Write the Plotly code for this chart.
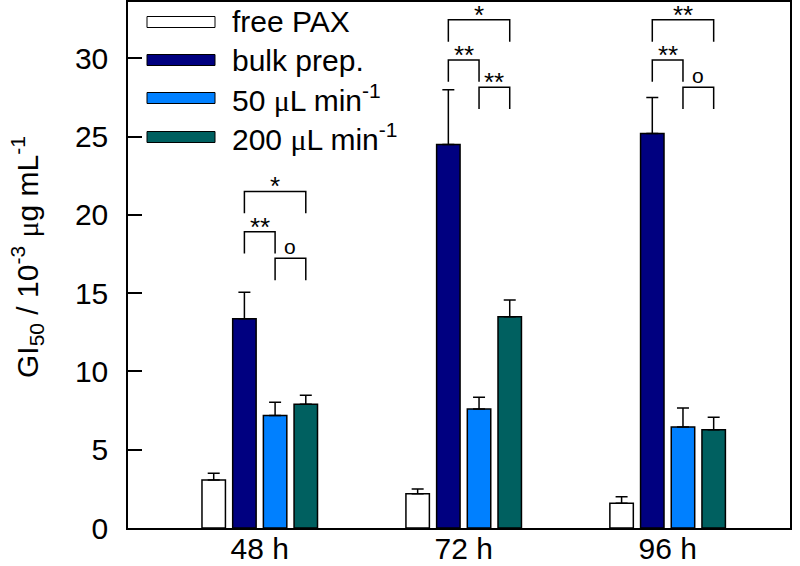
import plotly.graph_objects as go

# ---- data ----
categories = ["48 h", "72 h", "96 h"]
MU = "<span style=\"font-family:'Liberation Serif', serif\">μ</span>"
series_names = ["free PAX", "bulk prep.", f"50 {MU}L min<sup>-1</sup>", f"200 {MU}L min<sup>-1</sup>"]
free_pax = [3.07, 2.19, 1.58]
free_pax_err = [0.43, 0.30, 0.42]
bulk_prep = [13.36, 24.5, 25.2]
bulk_prep_err = [1.70, 3.50, 2.30]
flow_50 = [7.18, 7.60, 6.45]
flow_50_err = [0.85, 0.75, 1.22]
flow_200 = [7.90, 13.50, 6.28]
flow_200_err = [0.58, 1.07, 0.79]
y_ticks = [0, 5, 10, 15, 20, 25, 30]

# significance brackets: (category index, left series idx, right series idx, bracket y, label)
brackets = [
    (0, 1, 3, 21.5, "*"), (0, 1, 2, 18.93, "**"), (0, 2, 3, 17.23, "o"),
    (1, 1, 3, 32.46, "*"), (1, 1, 2, 29.9, "**"), (1, 2, 3, 28.16, "**"),
    (2, 1, 3, 32.46, "**"), (2, 1, 2, 29.9, "**"), (2, 2, 3, 28.16, "o"),
]

colors = ["#FFFFFF", "#000080", "#0080FF", "#006060"]
values = [free_pax, bulk_prep, flow_50, flow_200]
errors = [free_pax_err, bulk_prep_err, flow_50_err, flow_200_err]

FONT = "Arial, Liberation Sans, sans-serif"
FS = 30

fig = go.Figure()
for name, v, e, c in zip(series_names, values, errors, colors):
    fig.add_trace(go.Bar(
        x=categories, y=v, name=name, showlegend=False,
        marker=dict(color=c, line=dict(color="black", width=1.5)),
        error_y=dict(type="data", array=e, arrayminus=[0] * len(e), symmetric=False,
                     color="black", thickness=1.5, width=6),
    ))

bargap = 0.398
n_series = 4
slot = (1 - bargap) / n_series


def bar_center(ci, si):
    return ci - (1 - bargap) / 2 + slot * (si + 0.5)


shapes = []
annotations = []
leg_len = 1.4
for ci, a, b, yb, lab in brackets:
    x0, x1 = bar_center(ci, a), bar_center(ci, b)
    shapes.append(dict(type="path", xref="x", yref="y",
                       path=f"M {x0} {yb - leg_len} L {x0} {yb} L {x1} {yb} L {x1} {yb - leg_len}",
                       line=dict(color="black", width=1.5)))
    if lab == "o":
        annotations.append(dict(x=(x0 + x1) / 2, y=yb, xref="x", yref="y", text=lab, showarrow=False,
                                yanchor="bottom", yshift=-1, borderpad=0,
                                font=dict(family=FONT, size=21, color="black")))
    else:
        annotations.append(dict(x=(x0 + x1) / 2, y=yb, xref="x", yref="y", text=lab, showarrow=False,
                                yanchor="bottom", yshift=-11, borderpad=0,
                                font=dict(family=FONT, size=26, color="black")))

# manual legend (wide swatches)
W, H = 800, 566
ml, mr, mt, mb = 128, 10, 2, 38
pw, ph = W - ml - mr, H - mt - mb


def px(xp):
    return (xp - ml) / pw


def py(yp):
    return (H - mb - yp) / ph


row_y = [22, 60, 98, 137]
for name, c, ry in zip(series_names, colors, row_y):
    shapes.append(dict(type="rect", xref="paper", yref="paper",
                       x0=px(147), x1=px(215), y0=py(ry + 5.5), y1=py(ry - 5.5),
                       fillcolor=c, line=dict(color="black", width=1)))
    annotations.append(dict(x=px(230), y=py(ry), xref="paper", yref="paper", text=name,
                            showarrow=False, xanchor="left", yanchor="middle",
                            font=dict(family=FONT, size=FS, color="black")))

# y-axis title
annotations.append(dict(x=px(27), y=py(257), xref="paper", yref="paper",
                        text=f"GI<sub>50</sub> / 10<sup>-3</sup> {MU}g mL<sup>-1</sup>",
                        textangle=-90, showarrow=False, xanchor="center", yanchor="middle",
                        font=dict(family=FONT, size=FS, color="black")))

fig.update_layout(
    width=W, height=H,
    margin=dict(l=ml, r=mr, t=mt, b=mb, autoexpand=False),
    paper_bgcolor="white", plot_bgcolor="white",
    barmode="group", bargap=bargap, bargroupgap=0.236,
    shapes=shapes, annotations=annotations,
    font=dict(family=FONT, size=FS, color="black"),
    xaxis=dict(range=[-0.646, 2.6], showline=True, linecolor="black", linewidth=1.5,
               mirror=True, ticks="", showgrid=False, zeroline=False, ticklabelstandoff=-7,
               automargin=False, tickfont=dict(family=FONT, size=FS, color="black")),
    yaxis=dict(range=[0, 33.6], tickvals=y_ticks, showline=True, linecolor="black", linewidth=1.5,
               mirror=True, ticks="inside", ticklen=14, tickwidth=1.5, tickcolor="black",
               showgrid=False, zeroline=False, ticklabelstandoff=12, automargin=False,
               tickfont=dict(family=FONT, size=FS, color="black")),
)

fig.write_html("out.html", config={"displayModeBar": False},
               post_script="document.body.style.margin='0';document.body.style.overflow='hidden';")
